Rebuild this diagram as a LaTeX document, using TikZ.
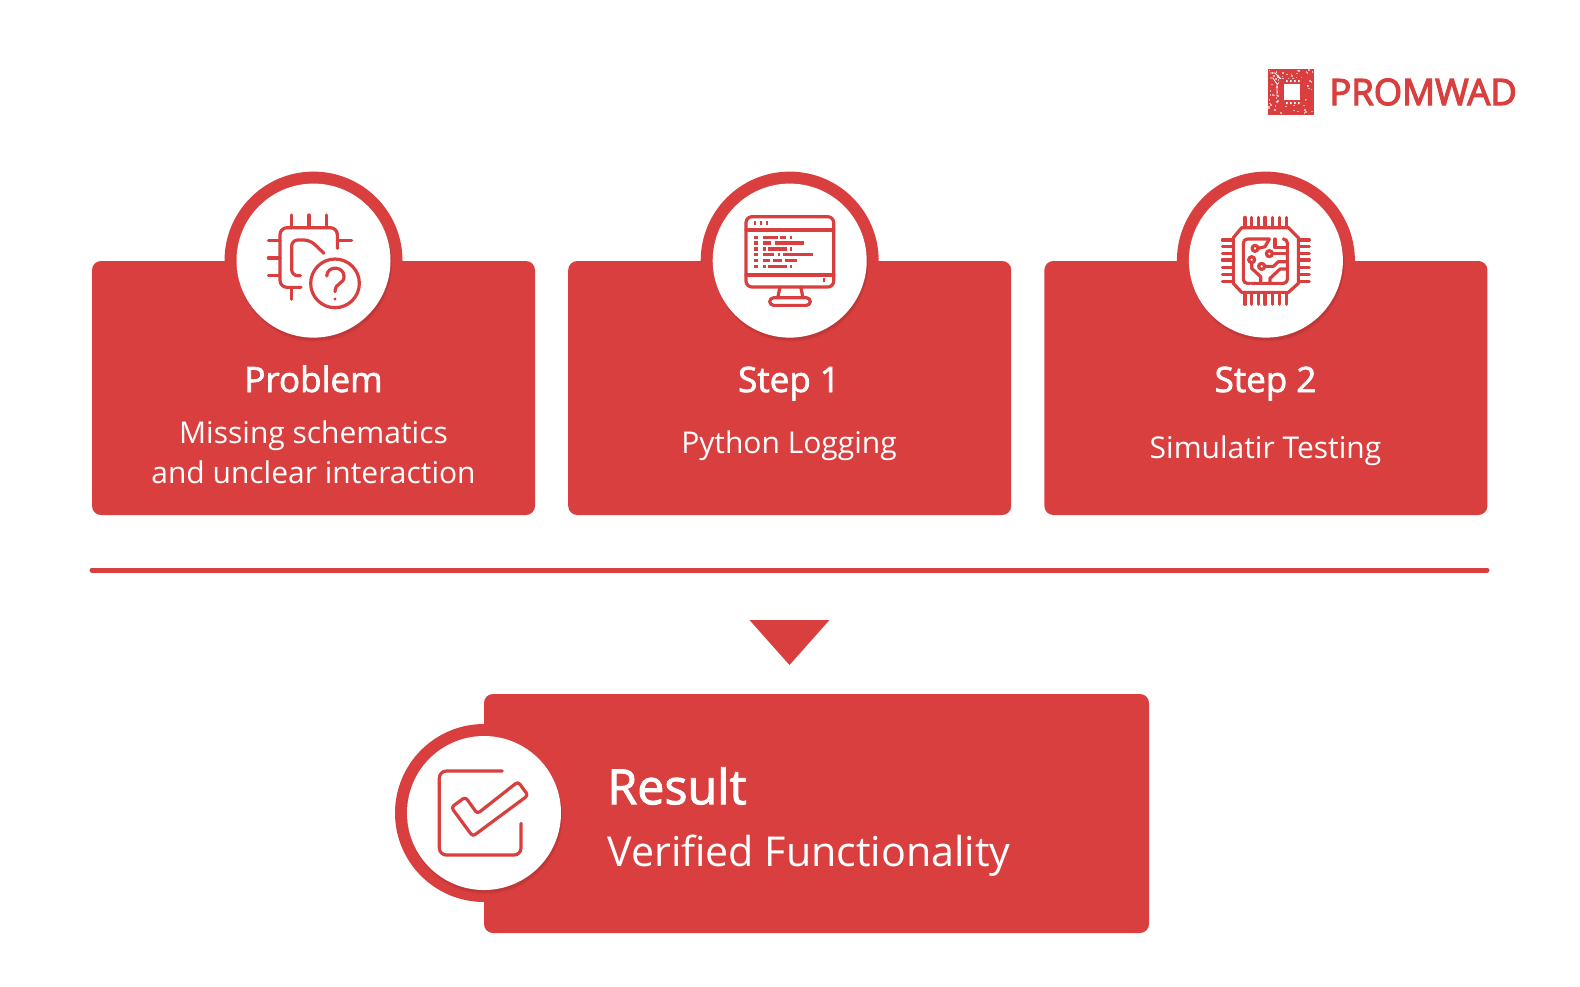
\documentclass[tikz,border=0pt]{standalone}
\usepackage{fontspec}
\setmainfont{Open Sans}
\newfontfamily\semibold[FakeBold=2]{Open Sans}
\newfontfamily\logobold[FakeBold=3.2]{Open Sans}
\usetikzlibrary{positioning}
\definecolor{promred}{HTML}{D93F3F}

\begin{document}
\begin{tikzpicture}[
        x=0.5pt, y=-0.5pt,
        card/.style={
            fill=promred,
            rounded corners=4.5pt,
            minimum width=221.5pt,
            minimum height=127pt,
            inner sep=0pt
        },
        ring/.style={
            circle,
            fill=promred,
            minimum size=89pt,
            inner sep=0pt
        },
        disc/.style={
            circle,
            fill=white,
            minimum size=77pt,
            inner sep=0pt
        },
        heading/.style={
            text=white,
            font=\semibold\fontsize{17.5}{21}\selectfont,
            anchor=base,
            inner sep=0pt
        },
        caption/.style={
            text=white,
            font=\fontsize{15}{20}\selectfont,
            align=center,
            inner sep=0pt
        },
        icon/.style={
            draw=promred,
            line width=1.6pt,
            line cap=round,
            line join=round
        }
    ]
        \useasboundingbox (0,0) rectangle (1580,986);

        % three upper cards
        \node[card] (problem) at (313.5,388) {};
        \node[card, right=16.2pt of problem] (step1) {};
        \node[card, right=16.2pt of step1] (step2) {};

        % rings
        \node[ring] (problemring) at (problem.north) {};
        \node[ring] (step1ring) at (step1.north) {};
        \node[ring] (step2ring) at (step2.north) {};

        % soft shadow under the discs
        \foreach \c in {problem, step1, step2} {
            \fill[black, opacity=0.06] ([shift={(1.5,4)}]\c.north) circle (77);
            \fill[black, opacity=0.06] ([shift={(1,2.5)}]\c.north) circle (77);
        }
        \node[disc] (problemdisc) at (problem.north) {};
        \node[disc] (step1disc) at (step1.north) {};
        \node[disc] (step2disc) at (step2.north) {};

        % card texts
        \node[heading] (problemhead) at (313.5,392) {Problem};
        \node[caption] (problemtext) at (313.5,452) {Missing schematics\\and unclear interaction};
        \node[heading] (step1head) at (789,392) {Step 1};
        \node[caption] (step1text) at (789,446) {Python Logging};
        \node[heading] (step2head) at (1265.5,392) {Step 2};
        \node[caption] (step2text) at (1265.5,451) {Simulatir Testing};

        % rule and triangle
        \draw[promred, line width=2.5pt, line cap=round] (92,570) coordinate (rulestart) -- (1487,570) coordinate (ruleend);
        \fill[promred] (749.5,620) -- (829.5,620) -- (789.5,665) -- cycle;

        % result
        \node[card, minimum width=332.5pt, minimum height=119.5pt] (result) at (816.5,813.5) {};
        \node[ring] (resultring) at (484,813) {};
        \fill[promred] (484,724) rectangle (500,902);
        \fill[black, opacity=0.06] (485.5,817) circle (77);
        \fill[black, opacity=0.06] (485,815.5) circle (77);
        \node[disc] (resultdisc) at (484,813) {};
        \node[text=white, font=\semibold\fontsize{24.2}{28}\selectfont, anchor=west, inner sep=0pt] (resulthead) at (607,786) {Result};
        \node[text=white, font=\fontsize{20.6}{25}\selectfont, anchor=west, inner sep=0pt] (resulttext) at (607,856) {Verified Functionality};

        % logo
        \node[text=promred, font=\logobold\fontsize{18.2}{21}\selectfont, anchor=west, inner sep=0pt] (logotext) at (1329,92) {PROMWAD};
        \fill[promred] (1268,69) rectangle (1314,115);
        \pgfmathsetseed{11}
        \foreach \i in {1,...,110} {
            \pgfmathsetmacro{\sx}{1268+44*rnd}
            \pgfmathsetmacro{\sy}{69+44*rnd}
            \fill[white, opacity=0.6] (\sx,\sy) rectangle +(1.6,1.6);
        }
        \draw[white, line width=0.4pt] (1270,73) -- (1275,73) -- (1282,80) (1270,78) -- (1273,78) -- (1277,84) -- (1277,96);
        \fill[promred] (1279,79) rectangle (1305,105);
        \foreach \p in {1287,1291,1295,1299} {
            \fill[white] (\p-1,80) rectangle (\p+0.5,82) (\p-1,102) rectangle (\p+0.5,104);
            \fill[white] (1280,\p-1) rectangle (1282,\p+0.5) (1302,\p-1) rectangle (1304,\p+0.5);
        }
        \fill[white] (1284,84) rectangle (1300,100);

        % problem icon
        \begin{scope}[shift={(220,165)}, x=0.1667pt, y=-0.1667pt]
            \draw[icon, rounded corners=3.5pt] (352,250) -- (352,188) -- (180,188) -- (180,367) -- (243,367);
            \draw[icon] (214,150) -- (214,188) (267,150) -- (267,188) (320,150) -- (320,188);
            \draw[icon] (352,227) -- (395,227);
            \draw[icon] (145,227) -- (180,227) (145,279) -- (180,279) (145,332) -- (180,332);
            \draw[icon] (214,367) -- (214,403);
            \draw[icon, rounded corners=3pt] (241,332) -- (215,332) -- (215,225) -- (270,225) -- (312,265);
            \draw[icon] (345,355) circle (73);
            \draw[icon] (320,333) .. controls (322,300) and (372,302) .. (372,335) .. controls (372,358) and (345,352) .. (345,380);
            \fill[promred] (345,402) circle (5);
        \end{scope}

        % step 1 icon
        \begin{scope}[shift={(695,165)}, x=0.1667pt, y=-0.1667pt]
            \draw[icon, rounded corners=3pt] (153,155) rectangle (416,366);
            \draw[icon] (153,195) -- (416,195) (153,330) -- (416,330);
            \draw[icon] (255,366) -- (248,398) (317,366) -- (324,398);
            \draw[icon, rounded corners=2pt] (224,398) rectangle (346,421);
            \foreach \xa/\xb/\ya in {177/190/217, 203/248/217, 256/273/217, 286/291/217,
                177/190/234, 203/228/234, 240/328/234,
                177/190/252, 203/212/252, 220/275/252, 286/291/252,
                177/190/269, 203/238/269, 250/255/269, 265/354/269,
                177/190/287, 203/225/287, 233/262/287, 270/305/287,
                177/190/305, 203/212/305, 220/275/305, 286/291/305,
                178/183/174, 195/200/174, 213/218/174, 385/390/345} {
                \fill[promred] (\xa,\ya-5) rectangle (\xb,\ya+5);
            }
        \end{scope}

        % step 2 icon
        \begin{scope}[shift={(1170,165)}, x=0.1667pt, y=-0.1667pt]
            \draw[icon] (215,188) -- (355,188) -- (385,218) -- (385,355) -- (355,382) -- (215,382) -- (190,355) -- (190,218) -- cycle;
            \foreach \p in {225,245,265,285,307,329,350} {
                \draw[icon] (\p,157) -- (\p,188) (\p,388) -- (\p,418);
                \draw[icon] (157,\p) -- (190,\p) (385,\p) -- (418,\p);
            }
            \draw[icon, rounded corners=2pt] (240,355) -- (220,355) -- (220,222) -- (298,222);
            \draw[icon, rounded corners=2pt] (340,222) -- (352,222) -- (352,355) -- (245,355);
            \draw[icon] (255,250) circle (9) (298,266) circle (9) (245,284) circle (9) (275,304) circle (9);
            \draw[icon] (264,250) -- (285,245) -- (298,222);
            \draw[icon] (307,266) -- (352,266);
            \draw[icon] (315,222) -- (315,248) -- (352,248);
            \draw[icon] (284,304) -- (310,304) -- (325,290) -- (352,290);
            \draw[icon] (245,293) -- (245,310) -- (272,335) -- (272,355);
            \draw[icon] (300,355) -- (300,340) -- (330,312) -- (352,312);
        \end{scope}

        % result icon
        \begin{scope}[shift={(390,720)}, x=0.1667pt, y=-0.1667pt]
            \draw[icon, rounded corners=3.5pt] (337,153) -- (148,153) -- (148,405) -- (393,405) -- (393,310);
            \draw[icon, rounded corners=1.5pt] (184,262) -- (226,231) -- (262,281) -- (384,185) -- (414,226) -- (248,349) -- cycle;
        \end{scope}
    \end{tikzpicture}
\end{document}
